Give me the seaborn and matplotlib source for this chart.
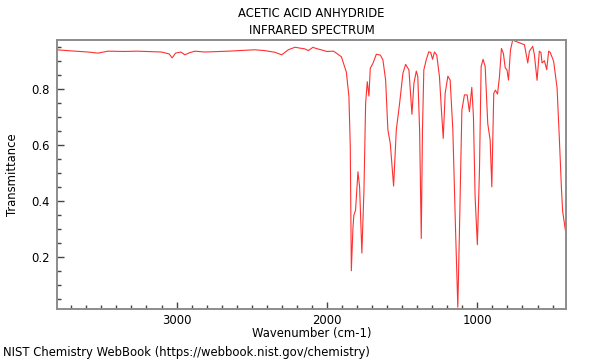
import pandas as pd
import matplotlib
matplotlib.use("Agg")
import matplotlib.pyplot as plt
from matplotlib.ticker import MultipleLocator
import seaborn as sns

# spectrum points (wavenumber, transmittance)
wavenumber = [3798, 3700, 3588, 3522, 3457, 3350, 3258, 3100, 3049, 3029, 3007,
              2971, 2945, 2911, 2878, 2812, 2657, 2480, 2413, 2346, 2301, 2257,
              2213, 2146, 2124, 2093, 2080, 2000, 1956, 1904, 1871, 1854, 1845,
              1838, 1827, 1821, 1810, 1794, 1783, 1768, 1754, 1743, 1732, 1721,
              1712, 1694, 1672, 1645, 1628, 1610, 1595, 1579, 1557, 1539, 1517,
              1495, 1477, 1455, 1435, 1422, 1406, 1396, 1384, 1373, 1365, 1356,
              1340, 1323, 1310, 1298, 1285, 1270, 1252, 1239, 1227, 1214, 1196,
              1181, 1163, 1145, 1130, 1119, 1103, 1086, 1068, 1053, 1037, 1026,
              1015, 1000, 986, 975, 962, 948, 931, 915, 904, 891, 880, 866, 853,
              840, 827, 815, 803, 793, 780, 765, 750, 720, 687, 665, 654, 632,
              621, 603, 588, 577, 570, 554, 539, 526, 515, 493, 470, 455, 441,
              433, 413]
transmittance = [0.940, 0.936, 0.932, 0.928, 0.935, 0.934, 0.935, 0.932, 0.925,
                 0.911, 0.928, 0.932, 0.922, 0.930, 0.935, 0.932, 0.935, 0.940,
                 0.937, 0.931, 0.922, 0.940, 0.949, 0.943, 0.937, 0.949, 0.946,
                 0.934, 0.935, 0.915, 0.860, 0.773, 0.594, 0.152, 0.308, 0.350,
                 0.368, 0.505, 0.451, 0.215, 0.439, 0.749, 0.826, 0.775, 0.874,
                 0.892, 0.924, 0.921, 0.904, 0.832, 0.654, 0.606, 0.454, 0.654,
                 0.749, 0.856, 0.888, 0.868, 0.710, 0.820, 0.864, 0.844, 0.654,
                 0.267, 0.654, 0.868, 0.904, 0.933, 0.930, 0.906, 0.932, 0.921,
                 0.844, 0.725, 0.624, 0.785, 0.846, 0.832, 0.654, 0.296, 0.022,
                 0.296, 0.725, 0.779, 0.779, 0.719, 0.806, 0.701, 0.415, 0.245,
                 0.511, 0.880, 0.906, 0.880, 0.677, 0.618, 0.451, 0.785, 0.796,
                 0.782, 0.844, 0.945, 0.927, 0.876, 0.868, 0.832, 0.939, 0.975,
                 0.971, 0.965, 0.958, 0.893, 0.935, 0.952, 0.923, 0.831, 0.935,
                 0.930, 0.893, 0.901, 0.869, 0.935, 0.930, 0.899, 0.804, 0.625,
                 0.446, 0.364, 0.290]

df = pd.DataFrame({"Wavenumber": wavenumber, "Transmittance": transmittance})

sns.set_style("white")
plt.rcParams["font.family"] = ["DejaVu Sans"]
plt.rcParams["text.color"] = "black"
plt.rcParams["axes.labelcolor"] = "black"
fs = 8.4

fig = plt.figure(figsize=(6, 3.6), dpi=100)
ax = fig.add_axes([0.095, 0.142, 0.848, 0.747])

sns.lineplot(data=df, x="Wavenumber", y="Transmittance", ax=ax,
             color="#ff3030", linewidth=0.8, estimator=None, sort=False)

ax.set_xlim(3795, 412)
ax.set_ylim(0.016, 0.975)
ax.xaxis.set_major_locator(MultipleLocator(1000))
ax.xaxis.set_minor_locator(MultipleLocator(100))
ax.yaxis.set_major_locator(MultipleLocator(0.2))
ax.yaxis.set_minor_locator(MultipleLocator(0.05))
ax.tick_params(which="both", direction="in", colors="#444444", labelcolor="black",
               labelsize=fs, left=True, bottom=True, top=False, right=False)
ax.tick_params(which="major", length=5, width=1, pad=5)
ax.tick_params(axis="x", which="major", pad=4)
ax.tick_params(which="minor", length=3, width=1)
for s in ax.spines.values():
    s.set_color("#8c8c8c")
    s.set_linewidth(1.4)

ax.set_xlabel("Wavenumber (cm-1)", fontsize=fs, labelpad=0)
ax.set_ylabel("Transmittance", fontsize=fs, labelpad=9)
ax.set_title("ACETIC ACID ANHYDRIDE\nINFRARED SPECTRUM", fontsize=fs, pad=4, linespacing=1.45)

fig.text(0.005, 0.02, "NIST Chemistry WebBook (https://webbook.nist.gov/chemistry)",
         fontsize=fs, va="center")

fig.savefig("out.png", dpi=100)
